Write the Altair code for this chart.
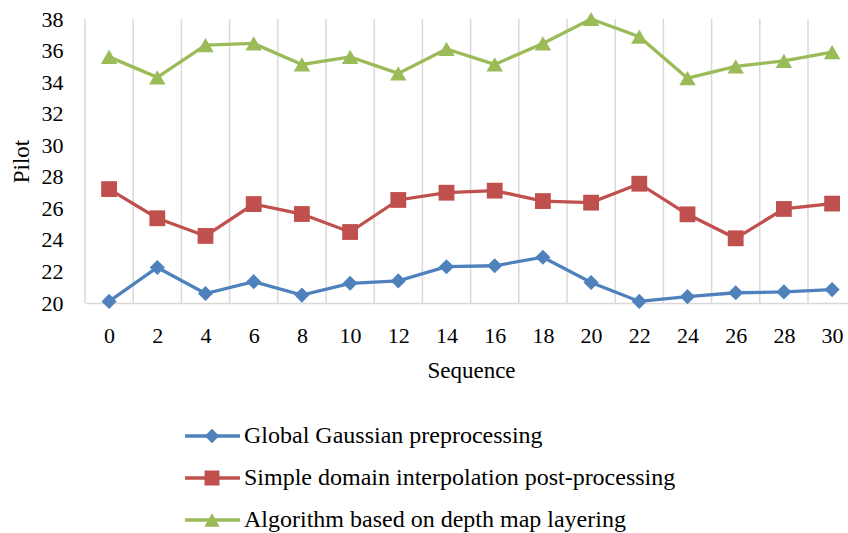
import altair as alt
import pandas as pd

# Sequence positions on the horizontal axis
sequence = [0, 2, 4, 6, 8, 10, 12, 14, 16, 18, 20, 22, 24, 26, 28, 30]

# Series names (legend order)
series_names = [
    "Global Gaussian preprocessing",
    "Simple domain interpolation post-processing",
    "Algorithm based on depth map layering",
]

# Pilot values per method
gaussian = [20.1, 22.25, 20.6, 21.35, 20.5, 21.25, 21.4, 22.3, 22.36, 22.9,
            21.3, 20.1, 20.4, 20.65, 20.7, 20.85]
interpolation = [27.22, 25.37, 24.25, 26.27, 25.64, 24.5, 26.53, 26.99, 27.12,
                 26.46, 26.36, 27.56, 25.62, 24.1, 25.96, 26.3]
depth_layering = [35.6, 34.3, 36.35, 36.45, 35.12, 35.6, 34.55, 36.1, 35.12,
                  36.45, 38.0, 36.88, 34.25, 35.0, 35.35, 35.9]

y_ticks = [20, 22, 24, 26, 28, 30, 32, 34, 36, 38]

colors = ["#4F81BD", "#C0504D", "#9BBB59"]
shapes = ["diamond", "square", "triangle-up"]
marker_sizes = [230, 270, 250]
FONT = "Liberation Serif"

rows = []
for name, vals in zip(series_names, [gaussian, interpolation, depth_layering]):
    for s, v in zip(sequence, vals):
        rows.append({"sequence": s, "pilot": v, "series": name})
df = pd.DataFrame(rows)

# Category boundaries for the vertical grid (Excel-style, between ticks)
grid_df = pd.DataFrame({"edge": [s - 1 for s in sequence]})
legend_df = pd.DataFrame({"series": series_names})

W, H = 763, 284
x_scale = alt.Scale(domain=[-1, 30.66], nice=False, zero=False)
y_scale = alt.Scale(domain=[20, 38], nice=False, zero=False)
color_scale = alt.Scale(domain=series_names, range=colors)
shape_scale = alt.Scale(domain=series_names, range=shapes)
size_scale = alt.Scale(domain=series_names, range=marker_sizes)

x_axis = alt.Axis(
    values=sequence, grid=False, ticks=False, domain=True,
    domainColor="#D9D9D9", domainWidth=1.5, labelOverlap=False,
    labelFont=FONT, labelFontSize=22, labelColor="black",
    labelBaseline="alphabetic", labelPadding=39,
    title="Sequence", titleFont=FONT, titleFontSize=23, titleFontWeight="normal",
    titleColor="black", titleX=386, titleY=74, titleBaseline="alphabetic",
    titleAnchor="start", titleAlign="center",
)
y_axis = alt.Axis(
    values=y_ticks, grid=False, ticks=False, domain=False,
    labelOverlap=False, labelFlush=False,
    labelFont=FONT, labelFontSize=22, labelColor="black", labelPadding=22,
    title="Pilot", titleFont=FONT, titleFontSize=23, titleFontWeight="normal",
    titleColor="black", titleAngle=-90, titleX=-57, titleY=142,
    titleBaseline="alphabetic", titleAlign="center",
)

grid = alt.Chart(grid_df).mark_rule(color="#D9D9D9", strokeWidth=1.5).encode(
    x=alt.X("edge:Q", scale=x_scale, axis=x_axis),
    y=alt.value(0),
    y2=alt.value(H),
)

lines = alt.Chart(df).mark_line(strokeWidth=3.3).encode(
    x=alt.X("sequence:Q", scale=x_scale, axis=x_axis),
    y=alt.Y("pilot:Q", scale=y_scale, axis=y_axis),
    color=alt.Color("series:N", scale=color_scale, legend=None),
)

points = alt.Chart(df).mark_point(filled=True, opacity=1).encode(
    x=alt.X("sequence:Q", scale=x_scale, axis=x_axis),
    y=alt.Y("pilot:Q", scale=y_scale, axis=y_axis),
    color=alt.Color("series:N", scale=color_scale, legend=None),
    shape=alt.Shape("series:N", scale=shape_scale, legend=None),
    size=alt.Size("series:N", scale=size_scale, legend=None),
)

main = alt.layer(grid, lines, points)

# Legend drawn below the plot: line sample with marker, then label
leg_y = alt.Y("series:N", scale=alt.Scale(type="point", domain=series_names,
                                          range=[417, 501], padding=0), axis=None)
leg_line = alt.Chart(legend_df).mark_rule(strokeWidth=3.3).encode(
    x=alt.value(100), x2=alt.value(155), y=leg_y,
    color=alt.Color("series:N", scale=color_scale, legend=None),
)
leg_mark = alt.Chart(legend_df).mark_point(filled=True, opacity=1).encode(
    x=alt.value(127), y=leg_y,
    color=alt.Color("series:N", scale=color_scale, legend=None),
    shape=alt.Shape("series:N", scale=shape_scale, legend=None),
    size=alt.Size("series:N", scale=alt.Scale(domain=series_names,
                                              range=[210, 240, 230]), legend=None),
)
leg_text = alt.Chart(legend_df).mark_text(
    align="left", baseline="middle", font=FONT, fontSize=24, color="black"
).encode(
    x=alt.value(159), y=leg_y, text="series:N",
)
legend = alt.layer(leg_line, leg_mark, leg_text)

chart = alt.layer(main, legend).resolve_scale(
    y="independent", size="independent"
).properties(
    width=W, height=H,
    autosize=alt.AutoSizeParams(type="none"),
    padding={"left": 85, "top": 19, "right": 0, "bottom": 230},
).configure_view(
    stroke=None
).configure_axis(
    labelOverlap=False
)

chart.save("out.html", embed_options={"renderer": "svg", "actions": False})
